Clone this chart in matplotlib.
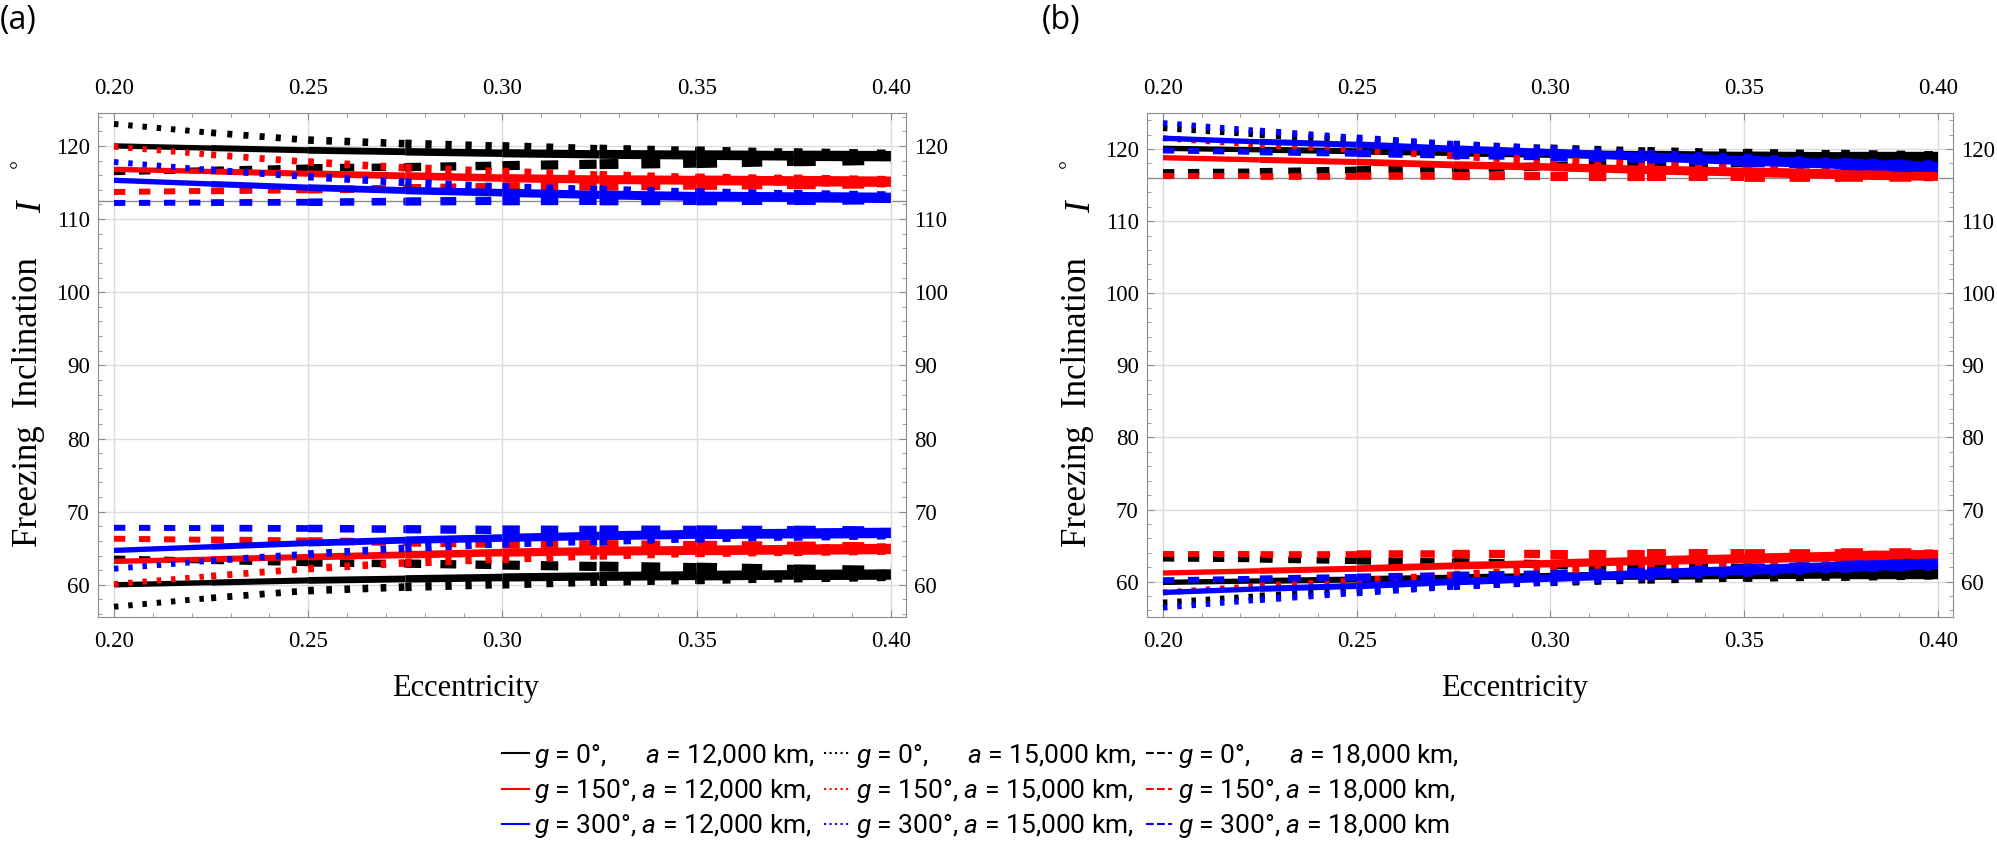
import numpy as np
import matplotlib.pyplot as plt
from matplotlib.collections import LineCollection
from matplotlib.lines import Line2D
from matplotlib.ticker import MultipleLocator, FormatStrFormatter

plt.rcParams['font.family'] = ['Liberation Serif', 'DejaVu Serif']
plt.rcParams['mathtext.fontset'] = 'custom'
plt.rcParams['mathtext.it'] = 'Roboto:italic'
plt.rcParams['mathtext.rm'] = 'Roboto'

# eccentricity samples
ecc = [0.200, 0.225, 0.250, 0.275, 0.300, 0.325, 0.350, 0.375, 0.400]

# panel (a): [a=12000 (solid), a=15000 (dotted), a=18000 (dashed)]
a_g0_upper = [[120.0, 119.7, 119.4, 119.2, 119.0, 118.85, 118.75, 118.65, 118.6],
              [123.0, 121.8, 120.8, 120.3, 119.9, 119.5, 119.2, 118.9, 118.7],
              [116.4, 116.7, 117.0, 117.1, 117.3, 117.5, 117.7, 118.0, 118.2]]
a_g150_upper = [[116.8, 116.5, 116.2, 115.9, 115.6, 115.4, 115.3, 115.2, 115.1],
                [119.9, 118.8, 117.8, 117.0, 116.4, 115.9, 115.5, 115.3, 115.1],
                [113.7, 113.85, 114.0, 114.2, 114.4, 114.55, 114.7, 114.85, 115.0]]
a_g300_upper = [[115.3, 114.8, 114.3, 113.9, 113.6, 113.3, 113.1, 113.0, 112.9],
                [117.8, 116.7, 115.8, 115.0, 114.3, 113.9, 113.5, 113.2, 113.0],
                [112.2, 112.25, 112.3, 112.4, 112.5, 112.55, 112.6, 112.7, 112.8]]
a_g0_lower = [[60.0, 60.3, 60.6, 60.8, 61.0, 61.15, 61.25, 61.35, 61.4],
              [57.0, 58.2, 59.2, 59.7, 60.1, 60.5, 60.8, 61.1, 61.3],
              [63.6, 63.3, 63.0, 62.9, 62.7, 62.5, 62.3, 62.0, 61.8]]
a_g150_lower = [[63.2, 63.5, 63.8, 64.1, 64.4, 64.6, 64.7, 64.8, 64.9],
                [60.1, 61.2, 62.2, 63.0, 63.6, 64.1, 64.5, 64.7, 64.9],
                [66.3, 66.15, 66.0, 65.8, 65.6, 65.45, 65.3, 65.15, 65.0]]
a_g300_lower = [[64.7, 65.2, 65.7, 66.1, 66.4, 66.7, 66.9, 67.0, 67.1],
                [62.2, 63.3, 64.2, 65.0, 65.7, 66.1, 66.5, 66.8, 67.0],
                [67.8, 67.75, 67.7, 67.6, 67.5, 67.45, 67.4, 67.3, 67.2]]

# panel (b)
b_g0_upper = [[120.1, 119.9, 119.7, 119.5, 119.3, 119.15, 119.0, 118.9, 118.9],
              [122.9, 122.0, 121.2, 120.5, 120.0, 119.6, 119.3, 119.1, 118.9],
              [116.8, 116.9, 117.1, 117.3, 117.6, 117.9, 118.2, 118.5, 118.7]]
b_g150_upper = [[118.8, 118.5, 118.2, 117.8, 117.5, 117.1, 116.8, 116.5, 116.3],
                [121.5, 120.6, 119.9, 119.1, 118.4, 117.7, 117.1, 116.6, 116.3],
                [116.2, 116.2, 116.2, 116.2, 116.2, 116.2, 116.2, 116.2, 116.2]]
b_g300_upper = [[121.5, 121.0, 120.6, 120.0, 119.5, 118.9, 118.4, 117.9, 117.5],
                [123.6, 122.5, 121.5, 120.6, 119.9, 119.2, 118.6, 118.0, 117.6],
                [119.8, 119.6, 119.4, 119.2, 119.0, 118.7, 118.3, 117.9, 117.5]]
b_g0_lower = [[59.9, 60.1, 60.3, 60.5, 60.7, 60.85, 61.0, 61.1, 61.1],
              [57.1, 58.0, 58.8, 59.5, 60.0, 60.4, 60.7, 60.9, 61.1],
              [63.2, 63.1, 62.9, 62.7, 62.4, 62.1, 61.8, 61.5, 61.3]]
b_g150_lower = [[61.2, 61.5, 61.8, 62.2, 62.5, 62.9, 63.2, 63.5, 63.7],
                [58.5, 59.4, 60.1, 60.9, 61.6, 62.3, 62.9, 63.4, 63.7],
                [63.8, 63.8, 63.8, 63.8, 63.8, 63.8, 63.8, 63.8, 63.8]]
b_g300_lower = [[58.5, 59.0, 59.4, 60.0, 60.5, 61.1, 61.6, 62.1, 62.5],
                [56.4, 57.5, 58.5, 59.4, 60.1, 60.8, 61.4, 62.0, 62.4],
                [60.2, 60.4, 60.6, 60.8, 61.0, 61.3, 61.7, 62.1, 62.5]]

g_labels = ['0', '150', '300']
a_labels = ['12,000', '15,000', '18,000']
colors = ['black', '#ff0000', '#0000ff']
styles = ['solid', (0, (0.75, 1.65)), (0, (1.9, 2.3))]
width_scale = [0.9, 1.0, 1.0]


def draw_curve(ax, y, color, ls, scale):
    pts = np.column_stack([ecc, y])
    segs = np.stack([pts[:-1], pts[1:]], axis=1)
    mid = (np.array(ecc[:-1]) + np.array(ecc[1:])) / 2
    # lines get thicker towards higher eccentricity, as in the original
    widths = scale * (4.0 + 4.6 * (mid - 0.2) / 0.2)
    lc = LineCollection(segs, colors=color, linewidths=widths,
                        linestyles=ls, capstyle='butt', zorder=3)
    ax.add_collection(lc)


def setup_axes(ax, ylim, axis_y):
    ax.set_xlim(0.1959, 0.4039)
    ax.set_ylim(*ylim)
    ax.xaxis.set_major_locator(MultipleLocator(0.05))
    ax.xaxis.set_minor_locator(MultipleLocator(0.01))
    ax.xaxis.set_major_formatter(FormatStrFormatter('%.2f'))
    ax.yaxis.set_major_locator(MultipleLocator(10))
    ax.yaxis.set_minor_locator(MultipleLocator(2))
    ax.tick_params(which='both', direction='in', top=True, right=True,
                   labeltop=True, labelright=True, color='#8c8c8c',
                   labelsize=16.5)
    ax.tick_params(which='major', length=5)
    ax.tick_params(which='minor', length=3)
    ax.tick_params(axis='x', which='major', pad=10)
    ax.tick_params(axis='y', which='major', pad=6)
    for s in ax.spines.values():
        s.set_color('#8c8c8c')
    ax.grid(True, which='major', color='#dcdcdc', lw=1, zorder=1)
    ax.axhline(axis_y, color='#8c8c8c', lw=1, zorder=1)


fig = plt.figure(figsize=(19.97, 8.58), dpi=100)
ax_a = fig.add_axes([0.0491, 0.2809, 0.4046, 0.5874])
ax_b = fig.add_axes([0.5744, 0.2809, 0.4036, 0.5874])

panels = [
    (ax_a, [a_g0_upper, a_g150_upper, a_g300_upper],
     [a_g0_lower, a_g150_lower, a_g300_lower], (55.6, 124.5), 112.5),
    (ax_b, [b_g0_upper, b_g150_upper, b_g300_upper],
     [b_g0_lower, b_g150_lower, b_g300_lower], (55.1, 125.0), 116.0),
]
for ax, uppers, lowers, ylim, axis_y in panels:
    for ci in range(3):
        for si in range(3):
            draw_curve(ax, uppers[ci][si], colors[ci], styles[si], width_scale[si])
            draw_curve(ax, lowers[ci][si], colors[ci], styles[si], width_scale[si])
    setup_axes(ax, ylim, axis_y)

# axis labels
for dx in [0.0, 1049 / 1997]:
    fig.text(0.233 + dx, 0.197, 'Eccentricity', fontsize=22,
             ha='center', va='center')
    fig.text(0.0145 + dx, 0.531, 'Freezing  Inclination', fontsize=25,
             rotation=90, ha='center', va='center')
    fig.text(0.0165 + dx, 0.758, 'I', fontsize=25, style='italic',
             rotation=90, ha='center', va='center')
    fig.text(0.010 + dx, 0.81, '°', fontsize=16,
             rotation=90, ha='center', va='center')

fig.text(0.0, 0.995, '(a)', fontsize=23, family='Open Sans',
         ha='left', va='top')
fig.text(1042 / 1997, 0.995, '(b)', fontsize=23, family='Open Sans',
         ha='left', va='top')

# legend, filled column by column
handles, labels = [], []
for si, ls in enumerate(['-', ':', '--']):
    for ci in range(3):
        handles.append(Line2D([], [], color=colors[ci], lw=1.5, linestyle=ls))
        pad = '     ' if ci == 0 else ''
        end = '' if (ci == 2 and si == 2) else ','
        labels.append(r'$g$ = %s°,%s $a$ = %s km%s'
                      % (g_labels[ci], pad, a_labels[si], end))
fig.legend(handles, labels, ncol=3, loc='center',
           bbox_to_anchor=(0.491, 0.078), frameon=False,
           prop={'family': 'Roboto', 'size': 19}, handlelength=1.0,
           handletextpad=0.2, columnspacing=0.35, labelspacing=0.28,
           borderpad=0)

fig.savefig('out.png', dpi=100)
